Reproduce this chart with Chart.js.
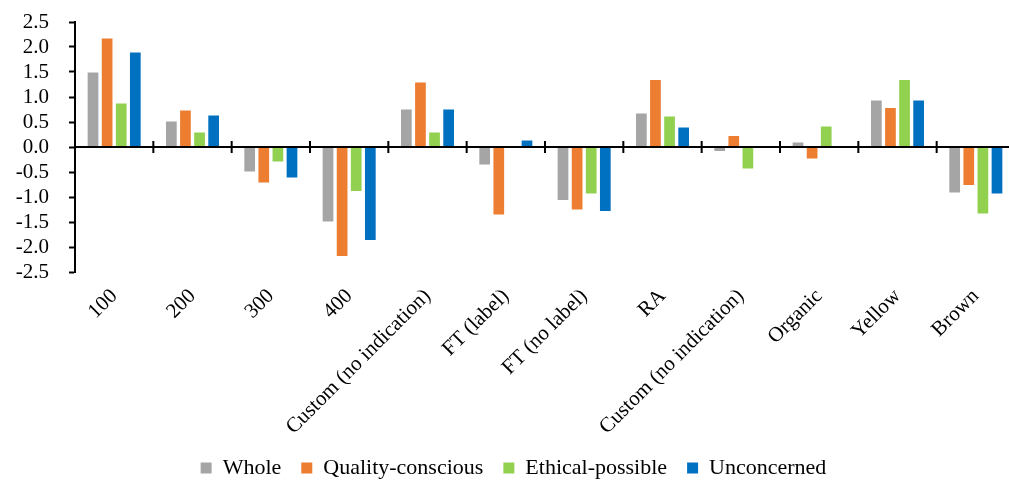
<!DOCTYPE html>
<html>
<head>
<meta charset="utf-8">
<script src="https://cdn.jsdelivr.net/npm/chart.js@4"></script>
<style>
  html, body { margin: 0; padding: 0; background: #fff; overflow: hidden; }
  .chart-wrap { width: 1020px; height: 481px; }
</style>
</head>
<body>
<div class="chart-wrap"><canvas id="barChart"></canvas></div>
<script>
const categories = ["100", "200", "300", "400", "Custom (no indication)", "FT (label)",
  "FT (no label)", "RA", "Custom (no indication)", "Organic", "Yellow", "Brown"];
const whole = [1.49, 0.51, -0.49, -1.49, 0.75, -0.35, -1.06, 0.67, -0.08, 0.09, 0.93, -0.91];
const qualityConscious = [2.17, 0.73, -0.71, -2.18, 1.29, -1.35, -1.25, 1.34, 0.22, -0.23, 0.78, -0.76];
const ethicalPossible = [0.87, 0.29, -0.29, -0.88, 0.29, 0.02, -0.93, 0.61, -0.43, 0.41, 1.34, -1.33];
const unconcerned = [1.89, 0.63, -0.61, -1.86, 0.75, 0.13, -1.28, 0.39, 0, 0, 0.93, -0.93];
const yTicks = [-2.5, -2.0, -1.5, -1.0, -0.5, 0.0, 0.5, 1.0, 1.5, 2.0, 2.5];

const serif = "'Liberation Serif', 'Times New Roman', Times, serif";

// black zero line with tick marks between the categories
const zeroAxis = {
  id: "zeroAxis",
  afterDatasetsDraw(chart) {
    const { ctx, chartArea, scales } = chart;
    const y0 = scales.y.getPixelForValue(0);
    ctx.save();
    ctx.strokeStyle = "#000";
    ctx.lineWidth = 2;
    ctx.beginPath();
    ctx.moveTo(chartArea.left, y0);
    ctx.lineTo(chartArea.right, y0);
    for (let i = 1; i <= categories.length; i++) {
      const bx = scales.x.getPixelForValue(i - 0.5);
      ctx.moveTo(bx, y0 - 6);
      ctx.lineTo(bx, y0 + 6);
    }
    ctx.stroke();
    ctx.restore();
  },
};

const bar = (label, data, color) => ({
  label: label,
  data: data,
  backgroundColor: color,
  borderWidth: 0,
  categoryPercentage: 0.72,
  barPercentage: 0.76,
});

new Chart(document.getElementById("barChart"), {
  type: "bar",
  data: {
    labels: categories,
    datasets: [
      bar("Whole", whole, "#a5a5a5"),
      bar("Quality-conscious", qualityConscious, "#ed7d31"),
      bar("Ethical-possible", ethicalPossible, "#92d050"),
      bar("Unconcerned", unconcerned, "#0070c0"),
    ],
  },
  options: {
    responsive: true,
    maintainAspectRatio: false,
    animation: false,
    layout: { padding: { left: 12, right: 5, top: 22, bottom: -8 } },
    scales: {
      x: {
        grid: { display: false, drawTicks: false },
        border: { display: false },
        afterFit: (scale) => {
          scale.height = 165;
        },
        ticks: {
          autoSkip: false,
          maxRotation: 45,
          minRotation: 45,
          padding: 12,
          color: "#000",
          font: { family: serif, size: 21 },
        },
      },
      y: {
        min: -2.5,
        max: 2.5,
        afterBuildTicks: (scale) => {
          scale.ticks = yTicks.map((v) => ({ value: v }));
        },
        afterFit: (scale) => {
          scale.width = 63;
          scale.paddingTop = 0;
          scale.paddingBottom = 0;
        },
        grid: {
          display: true,
          drawOnChartArea: false,
          tickLength: 6,
          tickWidth: 2,
          tickColor: "#000",
        },
        border: { display: true, color: "#000", width: 2 },
        ticks: {
          autoSkip: false,
          padding: 20,
          color: "#000",
          font: { family: serif, size: 21 },
          callback: (v) => Number(v).toFixed(1),
        },
      },
    },
    plugins: {
      legend: {
        position: "bottom",
        labels: {
          boxWidth: 11,
          boxHeight: 11,
          padding: 20,
          color: "#000",
          font: { family: serif, size: 22 },
        },
      },
      tooltip: { enabled: false },
    },
  },
  plugins: [zeroAxis],
});
</script>
</body>
</html>
